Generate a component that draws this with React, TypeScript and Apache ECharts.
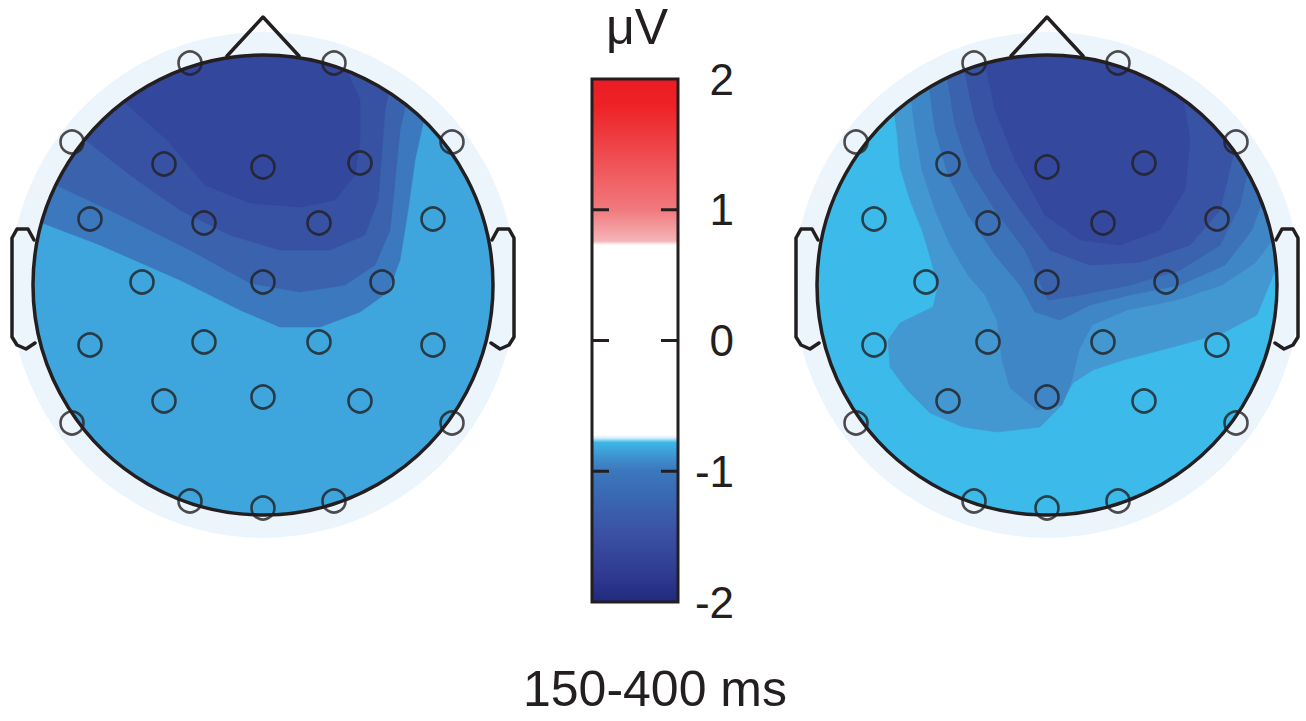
import React, { useEffect, useRef } from "react";
import * as echarts from "echarts";

const FONT = "'Liberation Sans', Arial, Helvetica, sans-serif";
const INK = "#231f20";
const HALO = "#ecf4fc";
const HEAD_R = 230;
const ARC_R = 242;
const HALO_R = 252;

// Electrode montage, head radius = 230 units, x to the right, y towards the nose
const electrodeNames = [
  "Fp1", "Fp2", "F7", "F3", "Fz", "F4", "F8", "FC5", "FC1", "FC2", "FC6", "C3", "Cz",
  "C4", "CP5", "CP1", "CP2", "CP6", "P3", "Pz", "P4", "P7", "P8", "O1", "Oz", "O2",
];
const electrodePos: [number, number][] = [
  [-73, 222], [71, 222], [-191, 143], [-99, 121], [0, 118], [97, 122], [189, 143],
  [-173, 66], [-59, 62], [56, 62], [170, 66], [-121, 3], [0, 3], [119, 3],
  [-173, -60], [-59, -57], [56, -57], [170, -60], [-99, -116], [0, -112], [97, -116],
  [-191, -138], [189, -138], [-73, -216], [0, -223], [71, -216],
];

// Left map: contour levels (base first), each boundary runs from the left edge to the right edge
const leftLevelColors = ["#3fa6dd", "#3b78bd", "#3a62ad", "#3752a3", "#33479c"];
const leftLevelBounds: [number, number][][] = [
  [],
  [[-226, 64], [-163, 40], [-83, 5], [-23, -25], [17, -42], [57, -42], [97, -27], [125, -7], [137, 25], [145, 75], [152, 125], [161, 166]],
  [[-209, 101], [-143, 70], [-73, 35], [-13, 2], [37, -7], [82, 0], [112, 20], [127, 55], [132, 105], [137, 155], [143, 182]],
  [[-180, 147], [-133, 110], [-83, 75], [-33, 50], [17, 35], [67, 35], [102, 50], [115, 85], [119, 135], [122, 175], [126, 195]],
  [[-141, 185], [-96, 145], [-58, 100], [-13, 82], [37, 78], [72, 85], [92, 110], [97, 145], [97, 185], [83, 216]],
];

// Right map
const rightLevelColors = ["#3cbaea", "#4398d1", "#3f86c6", "#3b72b8", "#3a62ad", "#3853a3", "#34489d"];
const rightLevelBounds: [number, number][][] = [
  [],
  [[-153, 174], [-150, 152], [-147, 118], [-137, 85], [-124, 52], [-114, 18], [-110, -5], [-114, -22], [-147, -38], [-159, -55], [-157, -82], [-140, -105], [-117, -128], [-84, -142], [-50, -147], [-7, -142], [13, -122], [26, -98], [46, -85], [76, -75], [126, -62], [176, -48], [210, -30], [231, 22]],
  [[-136, 187], [-132, 155], [-125, 115], [-112, 75], [-97, 40], [-79, 10], [-62, -10], [-50, -35], [-45, -75], [-37, -103], [-10, -125], [15, -120], [25, -95], [32, -65], [45, -40], [80, -25], [130, -15], [175, 0], [208, 22], [227, 47]],
  [[-118, 199], [-112, 155], [-99, 110], [-79, 70], [-52, 30], [-27, 0], [-12, -27], [13, -35], [43, -20], [83, -10], [133, 0], [178, 20], [205, 55], [216, 86]],
  [[-100, 209], [-92, 160], [-77, 115], [-52, 75], [-22, 35], [1, -15], [33, -10], [83, 0], [133, 15], [173, 40], [193, 80], [201, 116]],
  [[-83, 216], [-72, 165], [-54, 115], [-27, 75], [3, 35], [43, 20], [93, 23], [143, 40], [173, 75], [185, 125], [189, 134]],
  [[-62, 222], [-52, 175], [-32, 125], [-2, 70], [33, 45], [73, 40], [113, 55], [138, 95], [143, 145], [136, 187]],
];

// Colour scale (µV)
const cbMin = -2;
const cbMax = 2;
const cbStep = 1;
const cbStopValues = [2, 1.8, 1, 0.76, 0.73, -0.72, -0.745, -0.78, -0.9, -1, -1.5, -1.8, -2];
const cbStopColors = ["#ec1c24", "#ed2226", "#f1797d", "#f5b5b8", "#ffffff", "#ffffff", "#d6f0fa", "#3cb7e6", "#3f8fcd", "#3b77bc", "#3a4fa1", "#2e3a90", "#21297d"];

const noseLine: [number, number][] = [[-36, 229], [0, 268], [36, 229]];
const leftEar: [number, number][] = [[-229, 45], [-235, 56], [-246, 56], [-251, 47], [-251, -52], [-246, -60], [-237, -64], [-228, -58]];
const rightEar: [number, number][] = leftEar.map(([x, y]) => [-x, y] as [number, number]);

function contourRenderer(bounds: [number, number][][], colors: string[]) {
  return (params: any, api: any) => {
    const i = params.dataIndex;
    const c = api.coord([0, 0]);
    const s = api.size([1, 0])[0];
    const b = bounds[i];
    if (!b.length) {
      return { type: "circle", shape: { cx: c[0], cy: c[1], r: HEAD_R * s }, style: { fill: colors[i] } };
    }
    const pts = b.map((p) => api.coord(p));
    const first = b[0];
    const last = b[b.length - 1];
    const a0 = Math.atan2(last[1], last[0]);
    let a1 = Math.atan2(first[1], first[0]);
    while (a1 <= a0) a1 += Math.PI * 2;
    const n = Math.ceil((a1 - a0) / (Math.PI / 24));
    for (let k = 0; k <= n; k++) {
      const a = a0 + ((a1 - a0) * k) / n;
      pts.push(api.coord([ARC_R * Math.cos(a), ARC_R * Math.sin(a)]));
    }
    return { type: "polygon", shape: { points: pts }, style: { fill: colors[i], stroke: colors[i], lineWidth: 0.6 } };
  };
}

function haloRenderer(params: any, api: any) {
  const c = api.coord([0, 0]);
  const s = api.size([1, 0])[0];
  return { type: "circle", shape: { cx: c[0], cy: c[1], r: HALO_R * s }, style: { fill: HALO } };
}

function outlineRenderer(params: any, api: any) {
  const c = api.coord([0, 0]);
  const s = api.size([1, 0])[0];
  const line = { stroke: INK, lineWidth: 3.5, fill: "none", lineJoin: "round", lineCap: "round" };
  return {
    type: "group",
    children: [
      { type: "ring", shape: { cx: c[0], cy: c[1], r: (HALO_R + 1) * s, r0: (HEAD_R + 1) * s }, style: { fill: HALO } },
      { type: "circle", shape: { cx: c[0], cy: c[1], r: HEAD_R * s }, style: { ...line } },
      { type: "polyline", shape: { points: noseLine.map((p) => api.coord(p)) }, style: { ...line } },
      { type: "polyline", shape: { points: leftEar.map((p) => api.coord(p)) }, style: { ...line } },
      { type: "polyline", shape: { points: rightEar.map((p) => api.coord(p)) }, style: { ...line } },
    ],
  };
}

function colorbarRenderer(params: any, api: any) {
  const p0 = api.coord([0, cbMax]);
  const p1 = api.coord([1, cbMin]);
  const span = cbMax - cbMin;
  const stops = cbStopValues.map((v, i) => ({ offset: (cbMax - v) / span, color: cbStopColors[i] }));
  const children: any[] = [
    {
      type: "rect",
      shape: { x: p0[0], y: p0[1], width: p1[0] - p0[0], height: p1[1] - p0[1] },
      style: { fill: new echarts.graphic.LinearGradient(0, 0, 0, 1, stops), stroke: INK, lineWidth: 3 },
    },
  ];
  const tickLen = 17;
  for (let v = cbMin + cbStep; v < cbMax - 1e-9; v += cbStep) {
    const y = api.coord([0, v])[1];
    children.push({ type: "line", shape: { x1: p0[0], y1: y, x2: p0[0] + tickLen, y2: y }, style: { stroke: INK, lineWidth: 3 } });
    children.push({ type: "line", shape: { x1: p1[0] - tickLen, y1: y, x2: p1[0], y2: y }, style: { stroke: INK, lineWidth: 3 } });
  }
  return { type: "group", children };
}

export default function App() {
  const ref = useRef<HTMLDivElement>(null);
  useEffect(() => {
    if (!ref.current) return;
    const chart = echarts.init(ref.current, null, { renderer: "svg" });
    const headAxis = (i: number) => ({ gridIndex: i, type: "value", min: -255, max: 255, show: false });
    const heads = [
      { bounds: leftLevelBounds, colors: leftLevelColors },
      { bounds: rightLevelBounds, colors: rightLevelColors },
    ];
    const series: any[] = [];
    heads.forEach((h, gi) => {
      series.push({
        type: "custom", name: "halo" + gi, xAxisIndex: gi, yAxisIndex: gi, z: 1, silent: true,
        data: [[0, 0]], renderItem: haloRenderer,
      });
      series.push({
        type: "custom", name: "map" + gi, xAxisIndex: gi, yAxisIndex: gi, z: 2, silent: true,
        data: h.colors.map((_, i) => [i, 0]), renderItem: contourRenderer(h.bounds, h.colors),
      });
      series.push({
        type: "custom", name: "outline" + gi, xAxisIndex: gi, yAxisIndex: gi, z: 3, silent: true,
        data: [[0, 0]], renderItem: outlineRenderer,
      });
      series.push({
        type: "scatter", name: "electrodes" + gi, xAxisIndex: gi, yAxisIndex: gi, z: 4, silent: true,
        symbol: "circle", symbolSize: 23, clip: false,
        itemStyle: { color: "rgba(0,0,0,0)", borderColor: INK, borderWidth: 2.6 },
        data: electrodePos.map((p, i) => ({ name: electrodeNames[i], value: p })),
      });
    });
    series.push({
      type: "custom", name: "colorbar", xAxisIndex: 2, yAxisIndex: 2, z: 2, silent: true,
      data: [[0, 0]], renderItem: colorbarRenderer,
    });

    const option: any = {
      animation: false,
      backgroundColor: "#ffffff",
      grid: [
        { left: 263 - 255, top: 285 - 255, width: 510, height: 510 },
        { left: 1047 - 255, top: 285 - 255, width: 510, height: 510 },
        { left: 592, top: 79, width: 86, height: 523 },
      ],
      xAxis: [headAxis(0), headAxis(1), { gridIndex: 2, type: "value", min: 0, max: 1, show: false }],
      yAxis: [
        headAxis(0),
        headAxis(1),
        {
          gridIndex: 2, type: "value", min: cbMin, max: cbMax, interval: cbStep, position: "right",
          axisLine: { show: false },
          axisTick: { show: false },
          splitLine: { show: false },
          axisLabel: { show: true, fontSize: 44, fontFamily: FONT, color: INK, align: "right", margin: 56 },
        },
      ],
      graphic: [
        { type: "text", x: 637, y: 27, style: { text: "μV", font: `50px ${FONT}`, fill: INK, align: "center", verticalAlign: "middle" } },
        { type: "text", x: 655, y: 689, style: { text: "150-400 ms", font: `50px ${FONT}`, fill: INK, align: "center", verticalAlign: "middle" } },
      ],
      series,
    };
    chart.setOption(option);
    return () => chart.dispose();
  }, []);
  return (
    <div
      ref={ref}
      style={{ position: "fixed", left: 0, top: 0, width: 1306, height: 721, background: "#ffffff" }}
    />
  );
}
